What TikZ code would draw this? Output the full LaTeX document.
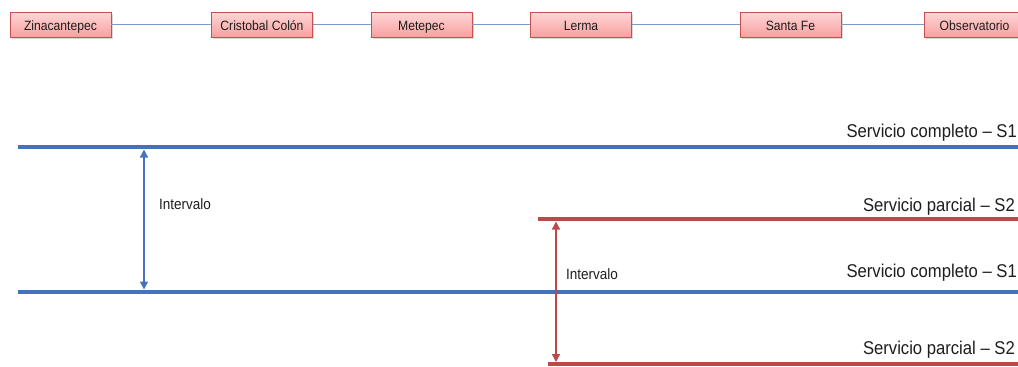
\documentclass[tikz,border=0pt]{standalone}
\usepackage{fontspec}
\setmainfont{Liberation Sans}
\newfontfamily\narrowsans[FakeStretch=0.9]{Liberation Sans}
\usetikzlibrary{arrows.meta,shadows}
\definecolor{boxtop}{RGB}{255,214,214}
\definecolor{boxbot}{RGB}{248,160,160}
\definecolor{boxline}{RGB}{196,80,80}
\definecolor{linkblue}{RGB}{120,155,205}
\definecolor{sblue}{RGB}{68,114,190}
\definecolor{sred}{RGB}{190,72,72}
\definecolor{txt}{RGB}{30,30,30}
\tikzset{
  station/.style={draw=boxline, line width=0.8pt, top color=boxtop, bottom color=boxbot,
    minimum width=101pt, minimum height=25pt, inner sep=0pt,
    text height=11pt, text depth=-1pt,
    font=\narrowsans\fontsize{13.5}{15}\selectfont, text=txt,
    drop shadow={shadow xshift=1.5pt, shadow yshift=-2pt, opacity=0.3}},
  link/.style={draw=linkblue, line width=1.2pt},
  s1line/.style={draw=sblue, line width=4pt},
  s2line/.style={draw=sred, line width=3.5pt},
  svclabel/.style={anchor=base east, inner sep=0pt, font=\narrowsans\fontsize{18.5}{21}\selectfont, text=txt},
  intlabel/.style={anchor=base west, inner sep=0pt, font=\narrowsans\fontsize{15}{17}\selectfont, text=txt},
  bluearrow/.style={draw=sblue, line width=1.3pt, {Triangle[length=8pt,width=8pt]}-{Triangle[length=8pt,width=8pt]}},
  redarrow/.style={draw=sred, line width=1.3pt, {Triangle[length=8pt,width=8pt]}-{Triangle[length=8pt,width=8pt]}}
}
\begin{document}
\begin{tikzpicture}[x=1pt,y=-1pt]
\useasboundingbox[fill=white] (0,0) rectangle (1018,367);
% stations
\node[station] (zin) at (60.5,24.5) {Zinacantepec};
\node[station] (cri) at (262,24.5) {Cristobal Colón};
\node[station] (met) at (421.5,24.5) {Metepec};
\node[station] (ler) at (581,24.5) {Lerma};
\node[station] (sfe) at (790.5,24.5) {Santa Fe};
\node[station] (obs) at (974.5,24.5) {Observatorio};
\draw[link] (zin.east) -- (cri.west);
\draw[link] (cri.east) -- (met.west);
\draw[link] (met.east) -- (ler.west);
\draw[link] (ler.east) -- (sfe.west);
\draw[link] (sfe.east) -- (obs.west);
% service lines
\coordinate (a1) at (18,147);  \coordinate (b1) at (1030,147);
\coordinate (a2) at (538,219); \coordinate (b2) at (1030,219);
\coordinate (a3) at (18,292);  \coordinate (b3) at (1030,292);
\coordinate (a4) at (548,364); \coordinate (b4) at (1030,364);
\draw[s1line] (a1) -- (b1);
\draw[s2line] (a2) -- (b2);
\draw[s1line] (a3) -- (b3);
\draw[s2line] (a4) -- (b4);
\node[svclabel] (l1) at (1017,137) {Servicio completo – S1};
\node[svclabel] (l2) at (1015,211) {Servicio parcial – S2};
\node[svclabel] (l3) at (1017,277) {Servicio completo – S1};
\node[svclabel] (l4) at (1015,354) {Servicio parcial – S2};
% intervals
\coordinate (ia) at (144,149.5);
\coordinate (ib) at (144,289.5);
\draw[bluearrow] (ia) -- (ib);
\node[intlabel] (i1) at (159,209) {Intervalo};
\coordinate (ja) at (556,221.5);
\coordinate (jb) at (556,362);
\draw[redarrow] (ja) -- (jb);
\node[intlabel] (i2) at (566,279) {Intervalo};
\end{tikzpicture}
\end{document}
